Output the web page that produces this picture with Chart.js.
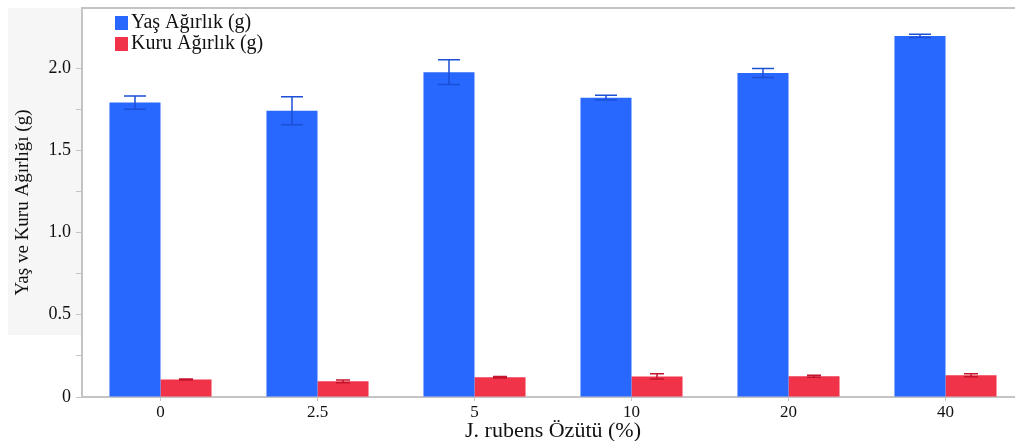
<!DOCTYPE html>
<html>
<head>
<meta charset="utf-8">
<script src="https://cdn.jsdelivr.net/npm/chart.js@4/dist/chart.umd.min.js"></script>
<style>
  html, body { margin: 0; padding: 0; background: #fff; overflow: hidden; }
  #wrap { width: 1015px; height: 441px; overflow: hidden; }
</style>
</head>
<body>
<div id="wrap"><canvas id="chart" width="1040" height="441"></canvas></div>
<script>
// veriler
const categories = ['0', '2.5', '5', '10', '20', '40'];
const yasAgirlik = [1.79, 1.74, 1.975, 1.82, 1.97, 2.195];
const yasHata = [0.04, 0.085, 0.075, 0.015, 0.027, 0.01];
const kuruAgirlik = [0.107, 0.095, 0.12, 0.125, 0.126, 0.132];
const kuruHata = [0.003, 0.009, 0.004, 0.016, 0.006, 0.009];
const yTickLabels = ['0', '0.5', '1.0', '1.5', '2.0'];

const serif = '"Liberation Serif", "DejaVu Serif", serif';
const axisGray = '#c4c4c4';

// hata çubukları, arka plan paneli ve gösterge
const extrasPlugin = {
    id: 'extras',
    beforeDraw(chart) {
        const ctx = chart.ctx;
        const area = chart.chartArea;
        ctx.save();
        ctx.fillStyle = '#f6f6f6';
        ctx.fillRect(8, area.top, area.left - 8, 335 - area.top);
        ctx.restore();
    },
    afterDatasetsDraw(chart) {
        const ctx = chart.ctx;
        const yScale = chart.scales.y;
        ctx.save();
        chart.data.datasets.forEach((ds, i) => {
            const meta = chart.getDatasetMeta(i);
            ctx.strokeStyle = ds.errorColor;
            ctx.lineWidth = 1.5;
            meta.data.forEach((bar, j) => {
                const v = ds.data[j];
                const e = ds.errors[j];
                const yTop = yScale.getPixelForValue(v + e);
                const yBot = yScale.getPixelForValue(v - e);
                const half = ds.capWidth / 2;
                ctx.beginPath();
                ctx.moveTo(bar.x, yTop);
                ctx.lineTo(bar.x, yBot);
                ctx.moveTo(bar.x - half, yTop);
                ctx.lineTo(bar.x + half, yTop);
                ctx.moveTo(bar.x - half, yBot);
                ctx.lineTo(bar.x + half, yBot);
                ctx.stroke();
            });
        });
        ctx.restore();
    },
    afterDraw(chart) {
        const ctx = chart.ctx;
        const area = chart.chartArea;
        ctx.save();
        // üst çerçeve
        ctx.strokeStyle = axisGray;
        ctx.lineWidth = 2;
        ctx.beginPath();
        ctx.moveTo(area.left, area.top);
        ctx.lineTo(area.right, area.top);
        ctx.stroke();
        // gösterge
        ctx.font = '20px ' + serif;
        ctx.textBaseline = 'middle';
        chart.data.datasets.forEach((ds, i) => {
            const y = area.top + 8 + i * 21;
            ctx.fillStyle = ds.backgroundColor;
            ctx.fillRect(area.left + 33, y, 13, 14);
            ctx.fillStyle = '#111';
            ctx.fillText(ds.label, area.left + 49, y + 7);
        });
        ctx.restore();
    }
};

new Chart(document.getElementById('chart').getContext('2d'), {
    type: 'bar',
    data: {
        labels: categories,
        datasets: [{
            label: 'Yaş Ağırlık (g)',
            data: yasAgirlik,
            errors: yasHata,
            backgroundColor: '#2968ff',
            errorColor: '#1b4fd6',
            capWidth: 22,
            categoryPercentage: 0.65,
            barPercentage: 1.0
        }, {
            label: 'Kuru Ağırlık (g)',
            data: kuruAgirlik,
            errors: kuruHata,
            backgroundColor: '#f03349',
            errorColor: '#c4132c',
            capWidth: 14,
            categoryPercentage: 0.65,
            barPercentage: 1.0
        }]
    },
    options: {
        responsive: false,
        animation: false,
        devicePixelRatio: 1,
        layout: { padding: { left: 8, top: 8, right: 16, bottom: 0 } },
        plugins: {
            legend: { display: false },
            tooltip: { enabled: false }
        },
        scales: {
            x: {
                grid: {
                    offset: false,
                    drawOnChartArea: false,
                    tickLength: 4,
                    color: axisGray
                },
                border: { color: axisGray, width: 2 },
                ticks: {
                    color: '#111',
                    font: { family: serif, size: 17 },
                    padding: 1
                },
                title: {
                    display: true,
                    text: 'J. rubens Özütü (%)',
                    color: '#111',
                    font: { family: serif, size: 22 },
                    padding: { top: 0, bottom: -3 }
                },
                afterFit(scale) {
                    scale.height = 44;
                    scale.paddingLeft = 0;
                    scale.paddingRight = 0;
                }
            },
            y: {
                min: 0,
                max: 2.365,
                afterBuildTicks(scale) {
                    scale.ticks = scale.ticks.filter(t => t.value <= 2.25 + 1e-9);
                },
                grid: {
                    drawOnChartArea: false,
                    tickLength: 6,
                    color: axisGray
                },
                border: { color: axisGray, width: 2 },
                ticks: {
                    stepSize: 0.25,
                    color: '#111',
                    font: { family: serif, size: 18 },
                    padding: 5,
                    callback: function(value) {
                        const idx = Math.round(value / 0.5);
                        if (Math.abs(value - idx * 0.5) < 1e-6 && idx < yTickLabels.length) {
                            return yTickLabels[idx];
                        }
                        return '';
                    }
                },
                title: {
                    display: true,
                    text: 'Yaş ve Kuru Ağırlığı (g)',
                    color: '#111',
                    font: { family: serif, size: 19 },
                    padding: { top: 4, bottom: 0 }
                },
                afterFit(scale) {
                    scale.width = 74;
                    scale.paddingTop = 0;
                    scale.paddingBottom = 0;
                }
            }
        }
    },
    plugins: [extrasPlugin]
});
</script>
</body>
</html>
